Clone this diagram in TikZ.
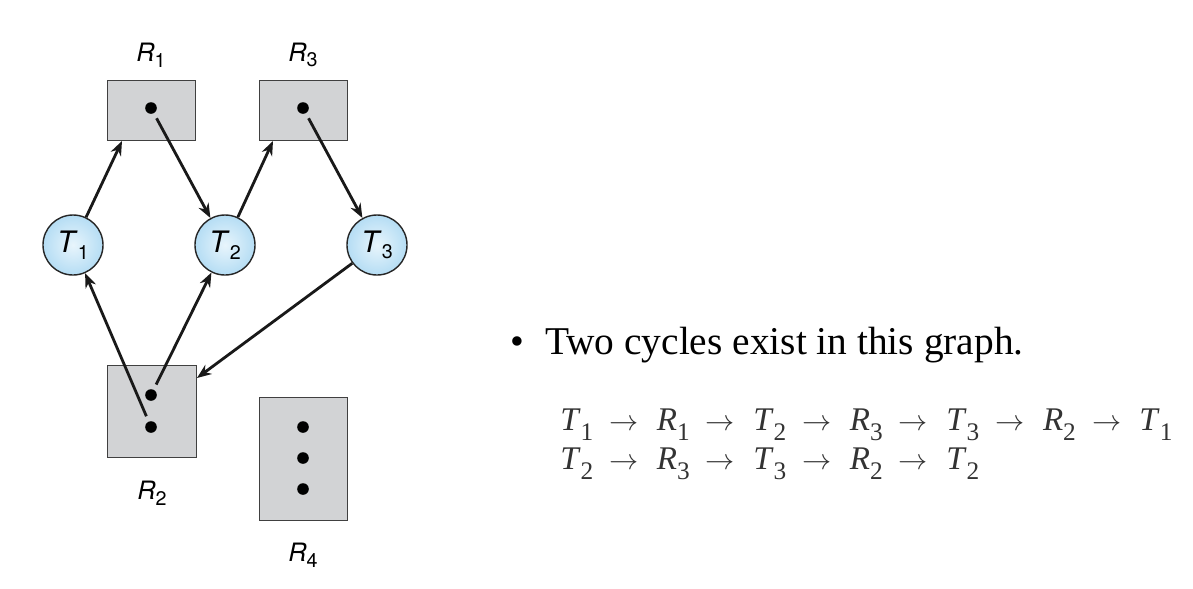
\documentclass[tikz,border=0pt]{standalone}
\usepackage{fontspec}
\setmainfont{Liberation Serif}
\setsansfont{TeX Gyre Heros}
\usetikzlibrary{arrows.meta,positioning}
\definecolor{boxgray}{HTML}{D2D3D5}
\definecolor{ballout}{HTML}{B5DDF4}
\definecolor{ballin}{HTML}{E8F5FC}
\definecolor{cyclegray}{HTML}{333333}
\newcommand{\gsym}[2]{\textit{#1}\raisebox{-0.22em}{\fontsize{14}{14}\selectfont #2}}
\newcommand{\tsym}[2]{\textit{#1}\raisebox{-0.33em}{\fontsize{18}{18}\selectfont #2}}
\newcommand{\tar}{\hspace{11.5pt}{\fontsize{21}{21}\selectfont$\rightarrow$}\hspace{13pt}}

\begin{document}
\begin{tikzpicture}[x=0.025cm,y=-0.025cm]
\tikzset{
  procnode/.style={circle,draw=black!85,line width=1pt,minimum size=1.5cm,inner sep=0pt,
    inner color=ballin,outer color=ballout,font=\sffamily\fontsize{21}{23}\selectfont},
  resbox/.style={rectangle,draw=black!75,line width=0.7pt,fill=boxgray,inner sep=0pt},
  dotnode/.style={circle,fill=black,minimum size=0.29cm,inner sep=0pt},
  reslabel/.style={font=\sffamily\fontsize{18}{20}\selectfont},
  directed/.style={draw=black!90,line width=2pt,-{Stealth[length=3.6mm,width=2.8mm]}},
  fromdot/.style={directed,shorten <=4pt}
}
\useasboundingbox (0,0) rectangle (1193,588);
\node[resbox,minimum width=2.175cm,minimum height=1.5cm] (n_R1) at (151.5,110) {};
\node[resbox,minimum width=2.175cm,minimum height=1.5cm] (n_R3) at (303.5,110) {};
\node[resbox,minimum width=2.2cm,minimum height=2.3cm] (n_R2) at (152,411) {};
\node[resbox,minimum width=2.175cm,minimum height=3.075cm] (n_R4) at (303.5,458.5) {};
\node[dotnode] (d_R1) at (151,108) {};
\node[dotnode] (d_R3) at (303,108) {};
\node[dotnode] (d_R2a) at (151,395) {};
\node[dotnode] (d_R2b) at (151,427) {};
\node[dotnode] (d_R4a) at (303,427) {};
\node[dotnode] (d_R4b) at (303,458) {};
\node[dotnode] (d_R4c) at (303,489) {};
\node[reslabel] (l_R1) at (151,55) {\gsym{R}{1}};
\node[reslabel] (l_R3) at (303,55) {\gsym{R}{3}};
\node[reslabel] (l_R2) at (152,493) {\gsym{R}{2}};
\node[reslabel] (l_R4) at (303,555) {\gsym{R}{4}};
\node[procnode] (n_T1) at (73,245) {\gsym{T}{1}};
\node[procnode] (n_T2) at (225,245) {\gsym{T}{2}};
\node[procnode] (n_T3) at (377,245) {\gsym{T}{3}};
\coordinate (a_R1) at (122,141);
\coordinate (a_R3) at (273,141);
\coordinate (a_R2) at (197,378);
\draw[directed] (n_T1) -- (a_R1);
\draw[fromdot] (d_R1) -- (n_T2);
\draw[directed] (n_T2) -- (a_R3);
\draw[fromdot] (d_R3) -- (n_T3);
\draw[fromdot] (d_R2b) -- (n_T1);
\draw[fromdot] (d_R2a) -- (n_T2);
\draw[directed] (n_T3) -- (a_R2);
\node[anchor=base west,inner sep=0pt,font=\fontsize{28}{32}\selectfont] (t_head) at (510,354)
  {\textbullet\hspace{15pt}Two cycles exist in this graph.};
\node[anchor=base west,inner sep=0pt,text=cyclegray,font=\fontsize{23.5}{26}\selectfont] (t_cyc1) at (560,430)
  {\tsym{T}{1}\tar\tsym{R}{1}\tar\tsym{T}{2}\tar\tsym{R}{3}\tar\tsym{T}{3}\tar\tsym{R}{2}\tar\tsym{T}{1}};
\node[anchor=base west,inner sep=0pt,text=cyclegray,font=\fontsize{23.5}{26}\selectfont] (t_cyc2) at (560,469)
  {\tsym{T}{2}\tar\tsym{R}{3}\tar\tsym{T}{3}\tar\tsym{R}{2}\tar\tsym{T}{2}};
\end{tikzpicture}
\end{document}
